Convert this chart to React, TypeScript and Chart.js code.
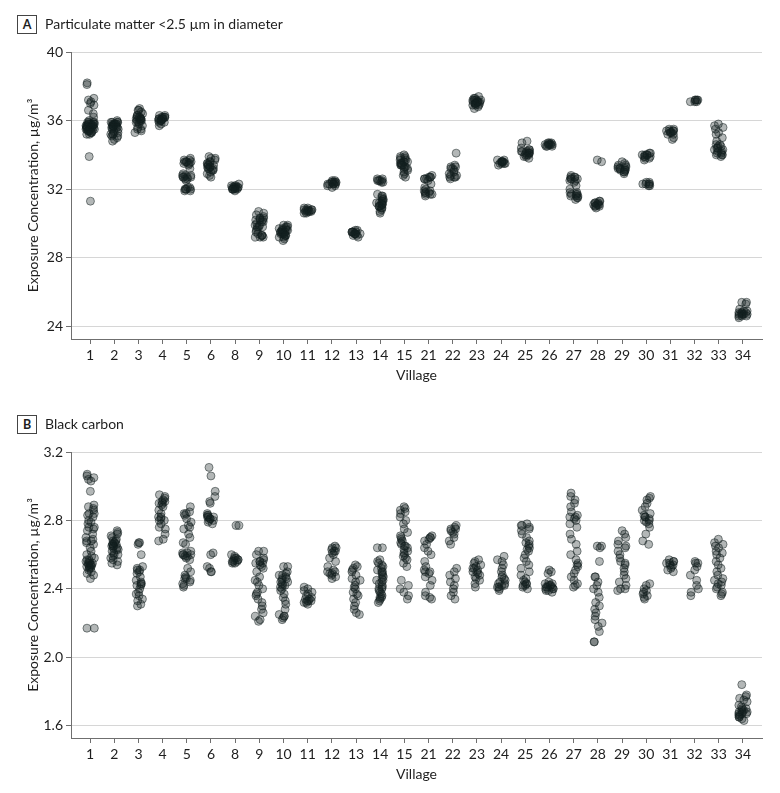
import React, { useEffect, useRef } from "react";
import { Chart, registerables } from "chart.js";

Chart.register(...registerables);

// ---------- categories & ticks ----------
const villages = ["1", "2", "3", "4", "5", "6", "8", "9", "10", "11", "12", "13", "14", "15", "21", "22", "23", "24", "25", "26", "27", "28", "29", "30", "31", "32", "33", "34"];
const pmTicks = [24, 28, 32, 36, 40];
const bcTicks = [1.6, 2.0, 2.4, 2.8, 3.2];

// ---------- Panel A: PM2.5 (µg/m³) per village ----------
const pm1 = [38.2, 38.1, 37.3, 37.2, 37.1, 37.0, 36.9, 36.6, 36.4, 36.2, 36.0, 35.9, 35.9, 35.9, 35.9, 35.8, 35.8, 35.8, 35.8, 35.8, 35.7, 35.7, 35.7, 35.7, 35.7, 35.7, 35.6, 35.6, 35.6, 35.6, 35.6, 35.6, 35.5, 35.5, 35.5, 35.5, 35.5, 35.4, 35.4, 35.4, 35.4, 35.3, 35.3, 35.3, 35.2, 35.2, 33.9, 31.3];
const pm2 = [36.0, 35.9, 35.9, 35.9, 35.9, 35.8, 35.8, 35.8, 35.8, 35.8, 35.7, 35.7, 35.7, 35.7, 35.7, 35.6, 35.6, 35.6, 35.6, 35.5, 35.5, 35.4, 35.3, 35.3, 35.2, 35.2, 35.2, 35.1, 35.1, 35.0, 34.9, 34.8];
const pm3 = [36.7, 36.6, 36.6, 36.5, 36.4, 36.3, 36.3, 36.2, 36.2, 36.2, 36.1, 36.1, 36.1, 36.1, 36.0, 36.0, 36.0, 36.0, 35.9, 35.9, 35.8, 35.7, 35.6, 35.5, 35.5, 35.4, 35.3];
const pm4 = [36.3, 36.3, 36.2, 36.2, 36.2, 36.2, 36.1, 36.1, 36.1, 36.1, 36.1, 36.0, 36.0, 36.0, 36.0, 35.9, 35.9, 35.8, 35.7];
const pm5 = [33.8, 33.7, 33.7, 33.6, 33.6, 33.6, 33.6, 33.5, 33.5, 33.5, 33.4, 33.2, 32.9, 32.8, 32.8, 32.8, 32.7, 32.7, 32.7, 32.7, 32.6, 32.6, 32.5, 32.1, 32.1, 32.0, 32.0, 32.0, 32.0, 31.9, 31.9];
const pm6 = [33.9, 33.8, 33.8, 33.7, 33.6, 33.6, 33.5, 33.5, 33.4, 33.4, 33.4, 33.3, 33.3, 33.3, 33.2, 33.2, 33.2, 33.1, 33.1, 33.0, 32.9, 32.8, 32.7];
const pm8 = [32.3, 32.2, 32.2, 32.2, 32.1, 32.1, 32.1, 32.1, 32.1, 32.1, 32.0, 32.0, 32.0, 32.0, 32.0, 31.9];
const pm9 = [30.7, 30.6, 30.5, 30.4, 30.3, 30.3, 30.3, 30.2, 30.2, 30.2, 30.1, 30.1, 30.0, 29.9, 29.9, 29.8, 29.8, 29.8, 29.7, 29.6, 29.5, 29.4, 29.3, 29.3, 29.3, 29.2, 29.2, 29.2];
const pm10 = [29.9, 29.9, 29.8, 29.8, 29.7, 29.7, 29.7, 29.6, 29.6, 29.6, 29.6, 29.5, 29.5, 29.5, 29.5, 29.5, 29.4, 29.4, 29.4, 29.4, 29.3, 29.3, 29.3, 29.2, 29.2, 29.1, 29.0];
const pm11 = [30.9, 30.9, 30.8, 30.8, 30.8, 30.8, 30.8, 30.7, 30.7, 30.7, 30.7, 30.7, 30.6, 30.6];
const pm12 = [32.5, 32.5, 32.4, 32.4, 32.4, 32.4, 32.4, 32.3, 32.3, 32.3, 32.3, 32.3, 32.2, 32.2, 32.1];
const pm13 = [29.6, 29.6, 29.5, 29.5, 29.5, 29.5, 29.5, 29.4, 29.4, 29.4, 29.4, 29.4, 29.3, 29.3, 29.2];
const pm14 = [32.6, 32.6, 32.5, 32.5, 32.5, 32.5, 32.4, 32.4, 31.7, 31.6, 31.6, 31.5, 31.4, 31.4, 31.3, 31.3, 31.2, 31.2, 31.2, 31.1, 31.1, 31.1, 31.0, 31.0, 31.0, 30.9, 30.9, 30.8, 30.7, 30.6];
const pm15 = [34.0, 33.9, 33.9, 33.8, 33.8, 33.7, 33.7, 33.6, 33.6, 33.6, 33.5, 33.5, 33.5, 33.4, 33.4, 33.4, 33.3, 33.3, 33.2, 33.2, 33.1, 33.0, 32.9, 32.8, 32.7];
const pm21 = [32.8, 32.7, 32.7, 32.7, 32.6, 32.6, 32.6, 32.5, 32.3, 32.1, 32.0, 31.9, 31.9, 31.8, 31.8, 31.8, 31.7, 31.7, 31.7, 31.6];
const pm22 = [34.1, 33.4, 33.3, 33.3, 33.2, 33.2, 33.1, 33.0, 32.9, 32.8, 32.8, 32.7, 32.7, 32.7, 32.6];
const pm23 = [37.4, 37.3, 37.3, 37.2, 37.2, 37.2, 37.2, 37.1, 37.1, 37.1, 37.1, 37.1, 37.0, 37.0, 37.0, 37.0, 37.0, 36.9, 36.9, 36.9, 36.8, 36.7];
const pm24 = [33.7, 33.7, 33.6, 33.6, 33.6, 33.6, 33.6, 33.5, 33.5, 33.5, 33.5, 33.4];
const pm25 = [34.8, 34.7, 34.4, 34.3, 34.3, 34.2, 34.2, 34.2, 34.2, 34.1, 34.1, 34.1, 34.1, 34.0, 34.0, 34.0, 33.9, 33.9, 33.8];
const pm26 = [34.7, 34.7, 34.7, 34.6, 34.6, 34.6, 34.6, 34.6, 34.6, 34.5, 34.5, 34.5];
const pm27 = [32.8, 32.7, 32.7, 32.7, 32.6, 32.6, 32.6, 32.5, 32.5, 32.4, 32.2, 32.0, 31.8, 31.8, 31.7, 31.7, 31.7, 31.6, 31.6, 31.6, 31.5, 31.5, 31.4];
const pm28 = [33.7, 33.6, 31.3, 31.3, 31.2, 31.2, 31.2, 31.1, 31.1, 31.1, 31.1, 31.0, 31.0, 31.0, 30.9];
const pm29 = [33.6, 33.5, 33.4, 33.4, 33.3, 33.3, 33.2, 33.2, 33.2, 33.2, 33.1, 33.1, 33.1, 33.0, 33.0, 32.9];
const pm30 = [34.1, 34.1, 34.0, 34.0, 34.0, 34.0, 33.9, 33.9, 33.9, 33.8, 33.8, 33.7, 32.4, 32.4, 32.3, 32.3, 32.3, 32.3, 32.2, 32.2];
const pm31 = [35.5, 35.5, 35.4, 35.4, 35.4, 35.4, 35.3, 35.3, 35.3, 35.2, 35.2, 35.0, 34.9];
const pm32 = [37.2, 37.2, 37.2, 37.2, 37.1, 37.1, 37.1];
const pm33 = [35.8, 35.7, 35.6, 35.5, 35.3, 35.2, 35.0, 34.8, 34.6, 34.6, 34.5, 34.5, 34.4, 34.4, 34.3, 34.3, 34.2, 34.2, 34.1, 34.1, 34.0, 34.0, 34.0, 33.9];
const pm34 = [25.4, 25.4, 25.3, 25.0, 24.9, 24.9, 24.8, 24.8, 24.8, 24.8, 24.7, 24.7, 24.7, 24.7, 24.7, 24.6, 24.6, 24.6, 24.5];

// ---------- Panel B: Black carbon (µg/m³) per village ----------
const bc1 = [3.07, 3.06, 3.05, 3.04, 3.03, 2.97, 2.89, 2.88, 2.87, 2.86, 2.84, 2.84, 2.83, 2.82, 2.80, 2.79, 2.78, 2.76, 2.76, 2.75, 2.74, 2.72, 2.70, 2.69, 2.68, 2.68, 2.67, 2.66, 2.64, 2.62, 2.60, 2.59, 2.58, 2.57, 2.57, 2.56, 2.56, 2.55, 2.55, 2.55, 2.54, 2.54, 2.54, 2.53, 2.53, 2.53, 2.52, 2.52, 2.51, 2.50, 2.49, 2.48, 2.46, 2.17, 2.17];
const bc2 = [2.74, 2.73, 2.72, 2.71, 2.70, 2.69, 2.68, 2.68, 2.67, 2.67, 2.66, 2.66, 2.66, 2.65, 2.65, 2.65, 2.64, 2.64, 2.63, 2.63, 2.62, 2.61, 2.60, 2.60, 2.59, 2.58, 2.57, 2.56, 2.55, 2.54];
const bc3 = [2.67, 2.67, 2.66, 2.60, 2.53, 2.52, 2.51, 2.51, 2.50, 2.49, 2.47, 2.45, 2.44, 2.43, 2.43, 2.42, 2.42, 2.40, 2.38, 2.37, 2.36, 2.34, 2.33, 2.31, 2.30];
const bc4 = [2.95, 2.94, 2.93, 2.92, 2.91, 2.91, 2.90, 2.90, 2.89, 2.88, 2.86, 2.84, 2.82, 2.82, 2.81, 2.80, 2.80, 2.78, 2.76, 2.75, 2.72, 2.69, 2.68];
const bc5 = [2.88, 2.85, 2.84, 2.84, 2.83, 2.81, 2.79, 2.77, 2.76, 2.75, 2.72, 2.70, 2.67, 2.66, 2.62, 2.61, 2.61, 2.60, 2.60, 2.60, 2.59, 2.59, 2.58, 2.57, 2.52, 2.50, 2.48, 2.47, 2.46, 2.46, 2.45, 2.44, 2.43, 2.42, 2.41];
const bc6 = [3.11, 3.06, 2.97, 2.94, 2.91, 2.90, 2.84, 2.83, 2.83, 2.82, 2.82, 2.82, 2.81, 2.81, 2.80, 2.80, 2.79, 2.78, 2.61, 2.60, 2.53, 2.52, 2.50, 2.50];
const bc8 = [2.77, 2.77, 2.60, 2.59, 2.58, 2.58, 2.57, 2.57, 2.57, 2.56, 2.56, 2.56, 2.55, 2.55];
const bc9 = [2.62, 2.62, 2.60, 2.58, 2.57, 2.56, 2.56, 2.55, 2.55, 2.54, 2.53, 2.52, 2.50, 2.47, 2.45, 2.44, 2.42, 2.40, 2.38, 2.37, 2.36, 2.34, 2.32, 2.30, 2.28, 2.26, 2.24, 2.22, 2.21];
const bc10 = [2.53, 2.53, 2.50, 2.49, 2.48, 2.48, 2.47, 2.46, 2.46, 2.45, 2.44, 2.44, 2.43, 2.42, 2.42, 2.41, 2.40, 2.39, 2.37, 2.35, 2.33, 2.31, 2.28, 2.25, 2.24, 2.24, 2.23, 2.22];
const bc11 = [2.41, 2.40, 2.39, 2.38, 2.37, 2.36, 2.35, 2.34, 2.34, 2.33, 2.33, 2.33, 2.32, 2.32, 2.31];
const bc12 = [2.65, 2.64, 2.64, 2.63, 2.62, 2.62, 2.61, 2.60, 2.58, 2.56, 2.53, 2.51, 2.50, 2.50, 2.49, 2.49, 2.48, 2.47, 2.46];
const bc13 = [2.54, 2.53, 2.52, 2.51, 2.50, 2.48, 2.46, 2.45, 2.44, 2.42, 2.41, 2.40, 2.38, 2.37, 2.36, 2.34, 2.32, 2.30, 2.28, 2.26, 2.25];
const bc14 = [2.64, 2.64, 2.57, 2.56, 2.55, 2.54, 2.53, 2.52, 2.51, 2.50, 2.50, 2.49, 2.48, 2.47, 2.46, 2.45, 2.45, 2.44, 2.43, 2.42, 2.41, 2.40, 2.40, 2.39, 2.38, 2.37, 2.36, 2.35, 2.35, 2.34, 2.33, 2.32];
const bc15 = [2.88, 2.87, 2.86, 2.85, 2.84, 2.82, 2.80, 2.78, 2.75, 2.73, 2.71, 2.70, 2.69, 2.68, 2.67, 2.66, 2.65, 2.65, 2.64, 2.63, 2.62, 2.61, 2.60, 2.59, 2.58, 2.57, 2.55, 2.53, 2.45, 2.42, 2.40, 2.38, 2.36, 2.34];
const bc21 = [2.71, 2.70, 2.70, 2.69, 2.68, 2.66, 2.64, 2.62, 2.60, 2.56, 2.53, 2.51, 2.50, 2.50, 2.49, 2.47, 2.45, 2.42, 2.38, 2.36, 2.35, 2.34];
const bc22 = [2.77, 2.76, 2.75, 2.75, 2.74, 2.73, 2.72, 2.70, 2.68, 2.66, 2.52, 2.50, 2.48, 2.46, 2.44, 2.42, 2.40, 2.38, 2.36, 2.34];
const bc23 = [2.57, 2.56, 2.55, 2.54, 2.53, 2.52, 2.52, 2.51, 2.50, 2.50, 2.49, 2.48, 2.47, 2.46, 2.45, 2.43, 2.41];
const bc24 = [2.59, 2.57, 2.56, 2.54, 2.52, 2.50, 2.48, 2.47, 2.46, 2.45, 2.44, 2.43, 2.43, 2.42, 2.42, 2.41, 2.41, 2.40, 2.39];
const bc25 = [2.78, 2.77, 2.77, 2.76, 2.75, 2.74, 2.72, 2.70, 2.68, 2.67, 2.66, 2.65, 2.64, 2.63, 2.62, 2.60, 2.58, 2.56, 2.54, 2.52, 2.50, 2.48, 2.46, 2.45, 2.44, 2.43, 2.43, 2.42, 2.42, 2.41, 2.40];
const bc26 = [2.51, 2.50, 2.49, 2.44, 2.43, 2.43, 2.42, 2.42, 2.42, 2.41, 2.41, 2.41, 2.40, 2.40, 2.40, 2.39, 2.39, 2.38];
const bc27 = [2.96, 2.94, 2.92, 2.90, 2.88, 2.85, 2.83, 2.82, 2.82, 2.81, 2.80, 2.78, 2.76, 2.72, 2.69, 2.66, 2.62, 2.60, 2.57, 2.55, 2.54, 2.53, 2.51, 2.49, 2.47, 2.45, 2.43, 2.42, 2.41];
const bc28 = [2.65, 2.65, 2.64, 2.56, 2.47, 2.47, 2.44, 2.42, 2.40, 2.38, 2.35, 2.32, 2.30, 2.28, 2.26, 2.24, 2.22, 2.20, 2.18, 2.15, 2.09, 2.09];
const bc29 = [2.74, 2.72, 2.70, 2.68, 2.66, 2.65, 2.64, 2.62, 2.60, 2.58, 2.56, 2.55, 2.54, 2.52, 2.50, 2.48, 2.46, 2.44, 2.42, 2.40, 2.40, 2.39];
const bc30 = [2.94, 2.93, 2.92, 2.90, 2.88, 2.86, 2.84, 2.83, 2.82, 2.82, 2.81, 2.80, 2.80, 2.79, 2.78, 2.76, 2.72, 2.68, 2.66, 2.43, 2.42, 2.40, 2.39, 2.38, 2.37, 2.36, 2.35, 2.34];
const bc31 = [2.57, 2.56, 2.56, 2.55, 2.55, 2.54, 2.54, 2.53, 2.52, 2.51, 2.50];
const bc32 = [2.56, 2.55, 2.55, 2.53, 2.51, 2.48, 2.45, 2.42, 2.40, 2.38, 2.36];
const bc33 = [2.69, 2.67, 2.66, 2.65, 2.64, 2.62, 2.61, 2.60, 2.58, 2.56, 2.54, 2.52, 2.50, 2.48, 2.46, 2.45, 2.44, 2.43, 2.42, 2.41, 2.40, 2.38, 2.37, 2.36];
const bc34 = [1.84, 1.78, 1.77, 1.76, 1.75, 1.74, 1.72, 1.71, 1.70, 1.70, 1.69, 1.69, 1.68, 1.68, 1.68, 1.67, 1.67, 1.67, 1.66, 1.66, 1.65, 1.65, 1.64, 1.63];

const pmByVillage = [pm1, pm2, pm3, pm4, pm5, pm6, pm8, pm9, pm10, pm11, pm12, pm13, pm14, pm15, pm21, pm22, pm23, pm24, pm25, pm26, pm27, pm28, pm29, pm30, pm31, pm32, pm33, pm34];
const bcByVillage = [bc1, bc2, bc3, bc4, bc5, bc6, bc8, bc9, bc10, bc11, bc12, bc13, bc14, bc15, bc21, bc22, bc23, bc24, bc25, bc26, bc27, bc28, bc29, bc30, bc31, bc32, bc33, bc34];

const FONT = "Lato, 'Noto Sans', sans-serif";
const TEXT = "#1e1e1e";
const AXIS = "#6f6f6f";
const GRID = "#d6d6d6";

// deterministic horizontal jitter, display offset only (hash of group/point index)
function jitter(g: number, i: number): number {
  const s = Math.sin((g * 131 + i * 17 + 7) * 12.9898) * 43758.5453;
  const f = s - Math.floor(s);
  return (f - 0.5) * 0.36;
}

function buildPoints(groups: number[][]) {
  const pts: { x: number; y: number }[] = [];
  groups.forEach((vals, g) => {
    vals.forEach((v, i) => pts.push({ x: g + jitter(g, i), y: v }));
  });
  return pts;
}

function makeConfig(groups: number[][], yMin: number, yMax: number, yTicks: number[], decimals: number, padBottom: number): any {
  return {
    type: "scatter",
    data: {
      datasets: [
        {
          data: buildPoints(groups),
          backgroundColor: "rgba(18,30,30,0.32)",
          borderColor: "rgba(18,30,30,0.5)",
          borderWidth: 1,
          pointRadius: 4,
        },
      ],
    },
    options: {
      responsive: false,
      animation: false,
      layout: { padding: { top: 52, left: 0, right: 18, bottom: padBottom } },
      plugins: { legend: { display: false }, tooltip: { enabled: false }, title: { display: false } },
      scales: {
        x: {
          type: "linear",
          min: -0.79,
          max: villages.length - 1 + 0.79,
          afterBuildTicks: (s: any) => {
            s.ticks = villages.map((_, i) => ({ value: i }));
          },
          afterFit: (s: any) => {
            s.height = 50;
          },
          ticks: {
            autoSkip: false,
            maxRotation: 0,
            padding: 3,
            color: TEXT,
            font: { family: FONT, size: 14 },
            callback: (v: any) => villages[Math.round(v)] ?? "",
          },
          grid: { drawOnChartArea: false, drawTicks: true, tickLength: 5, tickColor: AXIS },
          border: { display: true, color: AXIS, width: 1 },
          title: {
            display: true,
            text: "Village",
            color: TEXT,
            font: { family: FONT, size: 14 },
            padding: { top: 0, bottom: 5.6 },
          },
        },
        y: {
          min: yMin,
          max: yMax,
          afterBuildTicks: (s: any) => {
            s.ticks = yTicks.map((v) => ({ value: v }));
          },
          afterFit: (s: any) => {
            s.width = 71;
          },
          ticks: {
            padding: 3,
            color: TEXT,
            font: { family: FONT, size: 14 },
            callback: (v: any) => Number(v).toFixed(decimals),
          },
          grid: { color: GRID, lineWidth: 1, drawTicks: true, tickLength: 5, tickColor: AXIS },
          border: { display: true, color: AXIS, width: 1 },
          title: {
            display: true,
            text: "Exposure Concentration, µg/m³",
            color: TEXT,
            font: { family: FONT, size: 14 },
            padding: { top: 25, bottom: 0 },
          },
        },
      },
    },
  };
}

function Panel(props: { top: number; height: number; letter: string; title: string; groups: number[][]; yMin: number; yMax: number; yTicks: number[]; decimals: number; padBottom: number }) {
  const ref = useRef<HTMLCanvasElement | null>(null);
  useEffect(() => {
    if (!ref.current) return;
    const chart = new Chart(ref.current, makeConfig(props.groups, props.yMin, props.yMax, props.yTicks, props.decimals, props.padBottom));
    return () => chart.destroy();
  }, []);
  return (
    <div style={{ position: "absolute", left: 0, top: props.top, width: 780, height: props.height }}>
      <canvas ref={ref} width={780} height={props.height} style={{ display: "block", width: 780, height: props.height }} />
      <div
        style={{
          position: "absolute",
          left: 17,
          top: 15,
          width: 18,
          height: 17,
          border: "1px solid #444",
          boxSizing: "content-box",
          fontFamily: FONT,
          fontWeight: 700,
          fontSize: 12.5,
          lineHeight: "17px",
          textAlign: "center",
          color: TEXT,
          background: "#fff",
        }}
      >
        {props.letter}
      </div>
      <div
        style={{
          position: "absolute",
          left: 45,
          top: 14,
          fontFamily: FONT,
          fontSize: 14,
          lineHeight: "20px",
          color: TEXT,
          whiteSpace: "nowrap",
        }}
      >
        {props.title}
      </div>
    </div>
  );
}

export default function App() {
  return (
    <div style={{ position: "absolute", left: 0, top: 0, width: 780, height: 793, background: "#fff", overflow: "hidden" }}>
      <Panel top={0} height={395} letter="A" title="Particulate matter <2.5 µm in diameter" groups={pmByVillage} yMin={23.26} yMax={40} yTicks={pmTicks} decimals={0} padBottom={6} />
      <Panel top={400} height={393} letter="B" title="Black carbon" groups={bcByVillage} yMin={1.528} yMax={3.2} yTicks={bcTicks} decimals={1} padBottom={5} />
    </div>
  );
}
